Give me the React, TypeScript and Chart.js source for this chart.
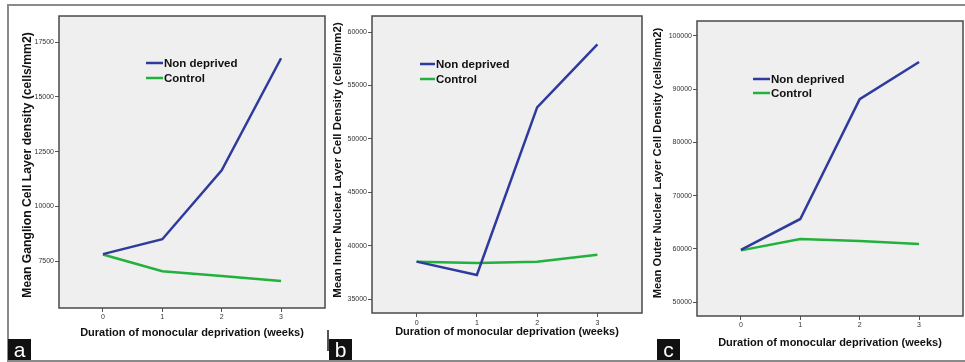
import React, { useEffect, useRef } from "react";
import { Chart, registerables } from "chart.js";
Chart.register(...registerables);

// ---- data ----
const weeks = [0, 1, 2, 3];
const seriesNames = ["Non deprived", "Control"];
const xAxisTitle = "Duration of monocular deprivation (weeks)";
const panelLetters = ["a", "b", "c"];

const gclTitle = "Mean Ganglion Cell Layer density (cells/mm2)";
const gclNonDeprived = [7820, 8500, 11650, 16760];
const gclControl = [7800, 7040, 6820, 6590];
const gclTicks = [7500, 10000, 12500, 15000, 17500];

const inlTitle = "Mean Inner Nuclear Layer Cell Density (cells/mm2)";
const inlNonDeprived = [38500, 37250, 52950, 58850];
const inlControl = [38500, 38380, 38480, 39150];
const inlTicks = [35000, 40000, 45000, 50000, 55000, 60000];

const onlTitle = "Mean Outer Nuclear Layer Cell Density (cells/mm2)";
const onlNonDeprived = [59800, 65600, 88100, 95100];
const onlControl = [59700, 61850, 61450, 60900];
const onlTicks = [50000, 60000, 70000, 80000, 90000, 100000];

const BLUE = "#2f3b9c";
const GREEN = "#21b13c";
const FONT = "Arial, 'Liberation Sans', sans-serif";

const spssPlugin = {
  id: "spssFrame",
  beforeDraw(chart: any) {
    const { ctx, chartArea: a } = chart;
    ctx.save();
    ctx.fillStyle = "#efefef";
    ctx.fillRect(a.left, a.top, a.right - a.left, a.bottom - a.top);
    ctx.restore();
  },
  afterDraw(chart: any, _args: any, opts: any) {
    const { ctx, chartArea: a } = chart;
    ctx.save();
    ctx.strokeStyle = "#4a4a4a";
    ctx.lineWidth = 1.5;
    ctx.strokeRect(a.left, a.top, a.right - a.left, a.bottom - a.top);
    // legend inside plot area
    ctx.font = "bold 11.5px " + FONT;
    ctx.textBaseline = "middle";
    ctx.textAlign = "left";
    chart.data.datasets.forEach((ds: any, i: number) => {
      const y = opts.y + i * opts.gap;
      ctx.strokeStyle = ds.borderColor;
      ctx.lineWidth = 2.5;
      ctx.beginPath();
      ctx.moveTo(opts.x, y);
      ctx.lineTo(opts.x + opts.len, y);
      ctx.stroke();
      ctx.fillStyle = "#111";
      ctx.fillText(ds.label, opts.x + opts.len + 1, y + 0.5);
    });
    // rotated y-axis title
    ctx.translate(opts.titleX, opts.titleY);
    ctx.rotate(-Math.PI / 2);
    ctx.font = "bold " + opts.titleSize + "px " + FONT;
    ctx.textAlign = "center";
    ctx.textBaseline = "middle";
    ctx.fillStyle = "#111";
    ctx.fillText(opts.title, 0, 0);
    ctx.restore();
  },
};

type Panel = {
  left: number; top: number; width: number; height: number;
  area: { l: number; t: number; r: number; b: number };
  yMin: number; yMax: number; yTicks: number[]; yTitle: string;
  nd: number[]; ctl: number[];
  yTitleX: number; yTitleY: number; yTitleSize: number;
  xTitleY: number; xTickPad: number;
  legend: { x: number; y: number; gap: number; len: number };
};

function PanelChart({ p }: { p: Panel }) {
  const ref = useRef<HTMLCanvasElement | null>(null);
  useEffect(() => {
    if (!ref.current) return;
    const padTop = p.area.t - p.top;
    const padRight = p.left + p.width - p.area.r;
    const yWidth = p.area.l - p.left;
    const xHeight = p.top + p.height - p.area.b;
    const xTitleLH = 11 * 1.2;
    const chart = new Chart(ref.current, {
      type: "line",
      data: {
        datasets: [
          {
            label: seriesNames[0],
            data: weeks.map((w, i) => ({ x: w, y: p.nd[i] })),
            borderColor: BLUE,
            backgroundColor: BLUE,
            borderWidth: 2.5,
            pointRadius: 0,
            tension: 0,
          },
          {
            label: seriesNames[1],
            data: weeks.map((w, i) => ({ x: w, y: p.ctl[i] })),
            borderColor: GREEN,
            backgroundColor: GREEN,
            borderWidth: 2.5,
            pointRadius: 0,
            tension: 0,
          },
        ],
      },
      options: {
        animation: false,
        responsive: false,
        events: [],
        layout: { padding: { top: padTop, right: padRight, left: 0, bottom: 0 } },
        plugins: {
          legend: { display: false },
          tooltip: { enabled: false },
          spssFrame: {
            x: p.legend.x - p.left,
            y: p.legend.y - p.top,
            gap: p.legend.gap,
            len: p.legend.len,
            title: p.yTitle,
            titleX: p.yTitleX - p.left,
            titleY: p.yTitleY - p.top,
            titleSize: p.yTitleSize,
          },
        } as any,
        scales: {
          x: {
            type: "linear",
            min: -0.74,
            max: 3.74,
            afterBuildTicks: (s: any) => {
              s.ticks = weeks.map((v) => ({ value: v }));
            },
            afterFit: (s: any) => {
              s.height = xHeight;
            },
            grid: { drawOnChartArea: false, drawTicks: true, tickLength: 4, color: "#555", lineWidth: 1 },
            border: { display: false },
            ticks: {
              font: { family: FONT, size: 7 },
              color: "#333",
              padding: p.xTickPad,
              callback: (v: any) => String(v),
            },
            title: {
              display: true,
              text: xAxisTitle,
              font: { family: FONT, size: 11, weight: "bold" },
              color: "#111",
              padding: { top: 0, bottom: p.top + p.height - p.xTitleY - xTitleLH / 2 },
            },
          },
          y: {
            type: "linear",
            min: p.yMin,
            max: p.yMax,
            afterBuildTicks: (s: any) => {
              s.ticks = p.yTicks.map((v) => ({ value: v }));
            },
            afterFit: (s: any) => {
              s.width = yWidth;
            },
            grid: { drawOnChartArea: false, drawTicks: true, tickLength: 4, color: "#555", lineWidth: 1 },
            border: { display: false },
            ticks: {
              font: { family: FONT, size: 7 },
              color: "#333",
              padding: 1,
              callback: (v: any) => String(v),
            },
            title: { display: false },
          },
        },
      },
      plugins: [spssPlugin],
    } as any);
    return () => chart.destroy();
  }, [p]);
  return (
    <canvas
      ref={ref}
      width={p.width}
      height={p.height}
      style={{ position: "absolute", left: p.left, top: p.top, width: p.width, height: p.height }}
    />
  );
}

const panels: Panel[] = [
  {
    left: 9, top: 6, width: 319, height: 353,
    area: { l: 59, t: 16, r: 325, b: 308 },
    yMin: 5360, yMax: 18690, yTicks: gclTicks, yTitle: gclTitle,
    nd: gclNonDeprived, ctl: gclControl,
    yTitleX: 28, yTitleY: 165, yTitleSize: 12.2,
    xTitleY: 333, xTickPad: 1,
    legend: { x: 146, y: 63, gap: 15, len: 17 },
  },
  {
    left: 329, top: 6, width: 316, height: 353,
    area: { l: 372, t: 16, r: 642, b: 313 },
    yMin: 33690, yMax: 61500, yTicks: inlTicks, yTitle: inlTitle,
    nd: inlNonDeprived, ctl: inlControl,
    yTitleX: 338, yTitleY: 160, yTitleSize: 11.5,
    xTitleY: 332, xTickPad: 1.8,
    legend: { x: 420, y: 64, gap: 15, len: 15 },
  },
  {
    left: 646, top: 6, width: 319, height: 353,
    area: { l: 697, t: 21, r: 963, b: 316 },
    yMin: 47370, yMax: 102800, yTicks: onlTicks, yTitle: onlTitle,
    nd: onlNonDeprived, ctl: onlControl,
    yTitleX: 658, yTitleY: 163, yTitleSize: 11.2,
    xTitleY: 343, xTickPad: 1,
    legend: { x: 753, y: 79, gap: 14, len: 17 },
  },
];

const letterBoxes = [8, 329, 657];

export default function App() {
  return (
    <div
      style={{
        position: "absolute",
        left: 0,
        top: 0,
        width: 965,
        height: 362,
        background: "#fff",
        overflow: "hidden",
        fontFamily: FONT,
      }}
    >
      <div
        style={{
          position: "absolute",
          left: 7,
          top: 4,
          width: 970,
          height: 354,
          borderTop: "2px solid #8a8a8a",
          borderLeft: "2px solid #8a8a8a",
          borderBottom: "2px solid #8a8a8a",
        }}
      />
      <div style={{ position: "absolute", left: 327, top: 330, width: 1.5, height: 21, background: "#555" }} />
      {panels.map((p, i) => (
        <PanelChart key={i} p={p} />
      ))}
      {letterBoxes.map((x, i) => (
        <div
          key={i}
          style={{
            position: "absolute",
            left: x,
            top: 339,
            width: 23,
            height: 21,
            background: "#111",
            color: "#fff",
            fontSize: 21,
            lineHeight: "21px",
            textAlign: "center",
            fontFamily: FONT,
          }}
        >
          {panelLetters[i]}
        </div>
      ))}
    </div>
  );
}
